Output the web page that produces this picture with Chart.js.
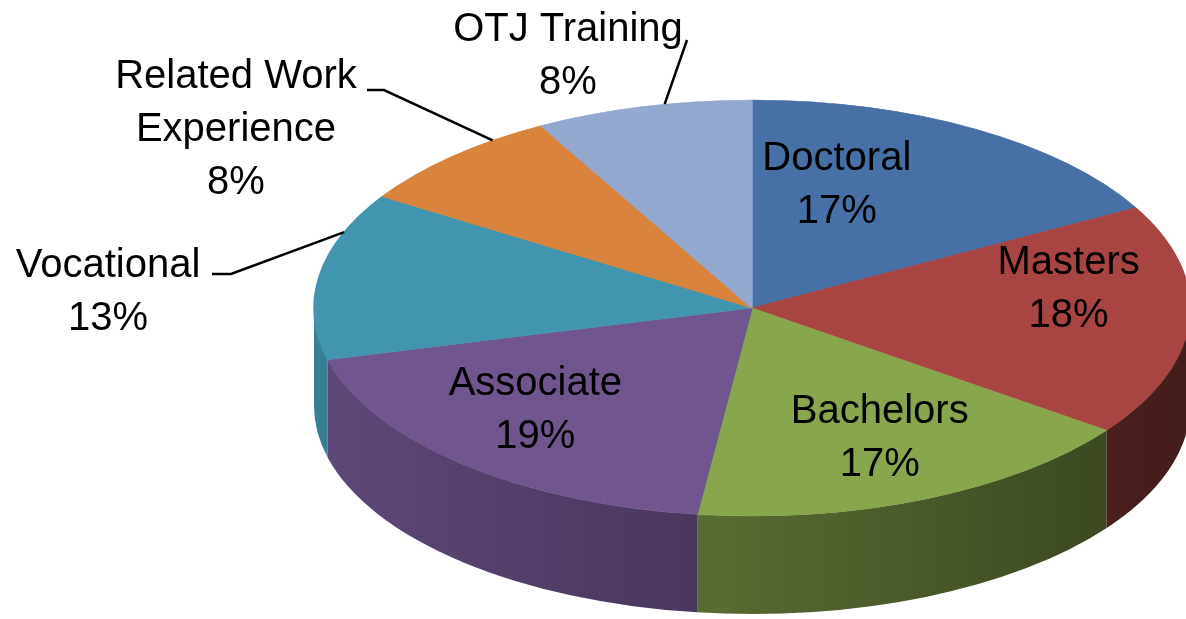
<!DOCTYPE html>
<html>
<head>
<meta charset="utf-8">
<style>html,body{margin:0;padding:0;background:#fff;overflow:hidden}canvas{display:block}</style>
<script src="https://cdn.jsdelivr.net/npm/chart.js@4/dist/chart.umd.min.js"></script>
</head>
<body>
<canvas id="c" width="1186" height="619"></canvas>
<script>
// ---- data ----
const categories = ['Doctoral', 'Masters', 'Bachelors', 'Associate', 'Vocational', 'Related Work Experience', 'OTJ Training'];
const shares = [17, 18, 17, 19, 13, 8, 8];
const labelLines = [['Doctoral'], ['Masters'], ['Bachelors'], ['Associate'], ['Vocational'], ['Related Work', 'Experience'], ['OTJ Training']];

// ---- style / layout ----
const colors = ['#4670A6', '#A84542', '#88A64C', '#70558E', '#4195AE', '#D9833C', '#93A8CF'];
const PIE = { cx: 752, cy: 308, rx: 438, ry: 208, depth: 98 };
const FONT = '40px "Liberation Sans", Arial, sans-serif';
const LINE_H = 53, CAP = 27;
// inside labels: polar placement (angle adjust in deg, radius fraction)
// outside labels: text block centre + leader elbow; rim point from angle adjust
const labelPlacement = [
  { inside: true, adj: -12.7, r: 0.63 },
  { inside: true, adj: -11.6, r: 0.73 },
  { inside: true, adj: -2.0, r: 0.68 },
  { inside: true, adj: 4.4, r: 0.69 },
  { inside: false, tx: 108, ty: 290, adj: 12.4, elbow: [[212, 274], [231, 274]] },
  { inside: false, tx: 236, ty: 127, adj: 6.9, elbow: [[367, 90], [384, 90]] },
  { inside: false, tx: 568, ty: 54, adj: 2.9, elbow: [[687, 40]] }
];

function shade(hex, f) {
  const n = parseInt(hex.slice(1), 16);
  const r = Math.round(((n >> 16) & 255) * f), g = Math.round(((n >> 8) & 255) * f), b = Math.round((n & 255) * f);
  return `rgb(${r},${g},${b})`;
}

const pie3d = {
  id: 'pie3d',
  beforeDatasetsDraw(chart) {
    const ctx = chart.ctx;
    const meta = chart.getDatasetMeta(0);
    const el0 = meta.data[0];
    const { cx, cy, rx, ry, depth } = PIE;
    // side walls (front half only: canvas angles 0..PI)
    meta.data.forEach((el, i) => {
      const a = Math.max(el.startAngle, 0);
      const b = Math.min(el.endAngle, Math.PI);
      if (a >= b) return;
      const g = ctx.createLinearGradient(cx - rx, 0, cx + rx, 0);
      g.addColorStop(0, shade(colors[i], 0.85));
      g.addColorStop(1, shade(colors[i], 0.40));
      ctx.save();
      ctx.beginPath();
      ctx.ellipse(cx, cy, rx, ry, 0, a, b, false);
      ctx.ellipse(cx, cy + depth, rx, ry, 0, b, a, true);
      ctx.closePath();
      ctx.fillStyle = g;
      ctx.fill();
      ctx.restore();
    });
    // squash the library's circular pie into the top ellipse
    ctx.save();
    ctx.translate(cx, cy);
    ctx.scale(rx / el0.outerRadius, ry / el0.outerRadius);
    ctx.translate(-el0.x, -el0.y);
  },
  afterDatasetsDraw(chart) {
    const ctx = chart.ctx;
    ctx.restore();
    const meta = chart.getDatasetMeta(0);
    const vals = chart.data.datasets[0].data;
    const total = vals.reduce((s, v) => s + v, 0);
    const { cx, cy, rx, ry } = PIE;
    const pt = (ang, r) => [cx + rx * r * Math.cos(ang), cy + ry * r * Math.sin(ang)];
    ctx.font = FONT;
    ctx.fillStyle = '#000';
    ctx.textAlign = 'center';
    ctx.textBaseline = 'alphabetic';
    meta.data.forEach((el, i) => {
      const p = labelPlacement[i];
      const mid = (el.startAngle + el.endAngle) / 2 + p.adj * Math.PI / 180;
      const lines = labelLines[i].concat([Math.round(vals[i] / total * 100) + '%']);
      let bx, by;
      if (p.inside) {
        [bx, by] = pt(mid, p.r);
      } else {
        bx = p.tx; by = p.ty;
        const rim = pt(mid, 1.0);
        ctx.save();
        ctx.strokeStyle = '#000';
        ctx.lineWidth = 2.5;
        ctx.beginPath();
        ctx.moveTo(p.elbow[0][0], p.elbow[0][1]);
        for (let k = 1; k < p.elbow.length; k++) ctx.lineTo(p.elbow[k][0], p.elbow[k][1]);
        ctx.lineTo(rim[0], rim[1]);
        ctx.stroke();
        ctx.restore();
      }
      const blockH = (lines.length - 1) * LINE_H + CAP;
      const firstBase = by - blockH / 2 + CAP;
      lines.forEach((t, k) => ctx.fillText(t, bx, firstBase + k * LINE_H));
    });
  }
};

new Chart(document.getElementById('c'), {
  type: 'pie',
  data: {
    labels: categories,
    datasets: [{
      data: shares,
      backgroundColor: colors,
      borderColor: colors,
      borderWidth: 1
    }]
  },
  options: {
    responsive: false,
    devicePixelRatio: 1,
    animation: false,
    events: [],
    rotation: 0,
    layout: { padding: 0 },
    plugins: { legend: { display: false }, tooltip: { enabled: false } }
  },
  plugins: [pie3d]
});
</script>
</body>
</html>
